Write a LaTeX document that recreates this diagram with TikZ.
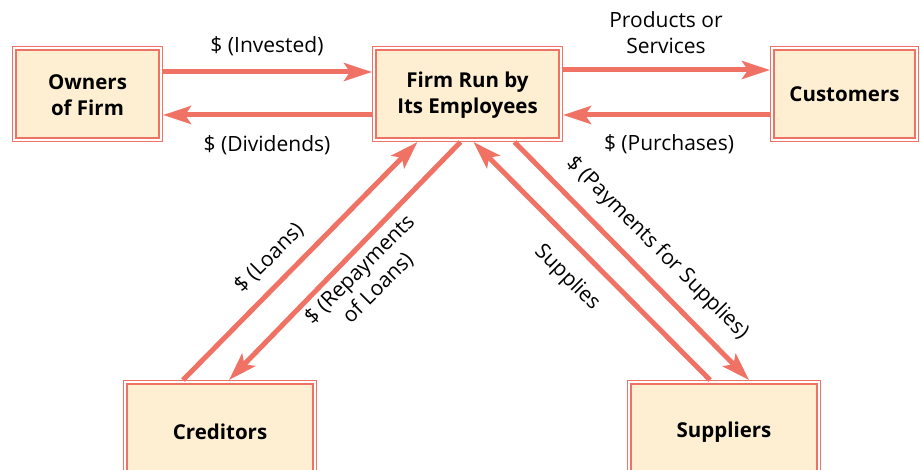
\documentclass[tikz,border=0pt]{standalone}
\usepackage{fontspec}
\setmainfont{Open Sans}
\usetikzlibrary{arrows.meta}
\definecolor{sal}{HTML}{F07265}
\definecolor{cream}{HTML}{FEEFD3}
\begin{document}
\begin{tikzpicture}[x=1pt,y=-1pt,
  box/.style={draw=sal, double=white, double distance=1.8pt, line width=1.4pt,
    fill=cream, font=\bfseries\fontsize{20.5}{26}\selectfont, align=center,
    inner sep=0pt, outer sep=2.3pt},
  arr/.style={draw=sal, line width=5pt, -{Stealth[length=28pt,width=18pt,inset=6pt]}},
  lab/.style={font=\fontsize{21}{26}\selectfont, align=center, inner sep=0pt}]
\useasboundingbox (0,0) rectangle (920,470);
\clip (0,0) rectangle (920,470);
\node[box, minimum width=146.4pt, minimum height=91.4pt] (own) at (87.5,94) {\rule{0pt}{18pt}Owners\\of Firm};
\node[box, minimum width=186.4pt, minimum height=91.4pt] (firm) at (467.5,94) {\rule{0pt}{18pt}Firm Run by\\Its Employees};
\node[box, minimum width=144.4pt, minimum height=91.4pt] (cust) at (844.5,94) {Customers};
\node[box, minimum width=189.4pt, minimum height=99.4pt] (cred) at (220,432) {Creditors};
\node[box, minimum width=189.4pt, minimum height=99.4pt] (supp) at (724,432) {\raisebox{-2pt}{Suppliers}};
\draw[arr] ([yshift=22pt]own.east) -- ([yshift=22pt]firm.west);
\draw[arr] ([yshift=-21pt]firm.west) -- ([yshift=-21pt]own.east);
\draw[arr] ([yshift=24pt]firm.east) -- ([yshift=24pt]cust.west);
\draw[arr] ([yshift=-21pt]cust.west) -- ([yshift=-21pt]firm.east);
\draw[arr] ([xshift=-37pt]cred.north) -- ([xshift=-50pt]firm.south);
\draw[arr] ([xshift=-7pt]firm.south) -- ([xshift=9pt]cred.north);
\draw[arr] ([xshift=-14pt]supp.north) -- ([xshift=6pt]firm.south);
\draw[arr] ([xshift=47pt]firm.south) -- ([xshift=25pt]supp.north);
\node[lab] (linv) at (267,46) {\$ (Invested)};
\node[lab] (ldiv) at (267,145) {\$ (Dividends)};
\node[lab] (lprod) at (666,33) {Products or\\Services};
\node[lab] (lpur) at (669,144) {\$ (Purchases)};
\node[lab, rotate=45] (lloan) at (269,258) {\$ (Loans)};
\node[lab, rotate=45] (lrep) at (369,279) {\$ (Repayments\\of Loans)};
\node[lab, rotate=-45] (lsup) at (567,278) {Supplies};
\node[lab, rotate=-45] (lpay) at (657,248) {\$ (Payments for Supplies)};
\end{tikzpicture}
\end{document}
